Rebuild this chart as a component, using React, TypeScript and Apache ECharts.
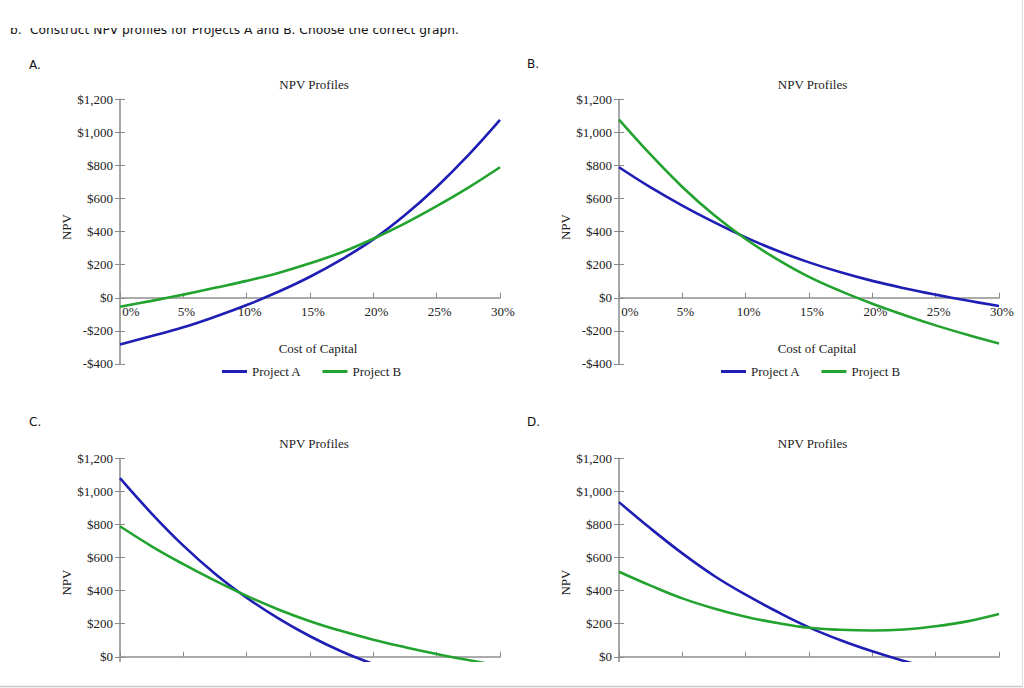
import React, { useEffect, useRef } from 'react';
import * as echarts from 'echarts';

// ---------- data ----------
const RATES = [0, 2.5, 5, 7.5, 10, 12.5, 15, 17.5, 20, 22.5, 25, 27.5, 30];

const A_PROJECT_A = [-282, -232, -179, -115, -44, 36, 127, 232, 353, 500, 670, 862, 1075];
const A_PROJECT_B = [-54, -19, 19, 60, 102, 150, 208, 275, 357, 450, 554, 666, 789];
const B_PROJECT_A = [789, 667, 557, 457, 365, 284, 214, 154, 102, 58, 19, -17, -50];
const B_PROJECT_B = [1077, 865, 670, 500, 355, 232, 126, 40, -36, -104, -167, -224, -277];
const C_PROJECT_A = [1080, 866, 672, 502, 357, 232, 124, 32, -44, -110, -170, -226, -277];
const C_PROJECT_B = [789, 668, 560, 460, 368, 286, 215, 155, 103, 58, 17, -20, -54];
const D_PROJECT_A = [935, 775, 625, 490, 375, 272, 178, 100, 33, -26, -78, -124, -165];
const D_PROJECT_B = [514, 430, 353, 292, 242, 204, 175, 163, 159, 165, 184, 214, 258];

const SERIES_NAMES = ['Project A', 'Project B'];
const PANEL_LABELS = ['A.', 'B.', 'C.', 'D.'];
const TITLE = 'NPV Profiles';
const X_NAME = 'Cost of Capital';
const Y_NAME = 'NPV';
const HEADER_MARK = 'b.';
const HEADER_TEXT = 'Construct NPV profiles for Projects A and B. Choose the correct graph.';
const Y_MIN = -400;
const Y_MAX = 1200;
const Y_STEP = 200;
const X_MIN = 0;
const X_MAX = 30;
const X_STEP = 5;

// ---------- styles ----------
const SERIF = "'Liberation Serif', 'Times New Roman', serif";
const SANS = "'DejaVu Sans', Verdana, sans-serif";
const BLUE = '#1e1eb4';
const GREEN = '#22a22e';
const TEXT = '#222';
const CHART_H = 760; // taller than the window: the lower panels run past the visible page

const PANELS = [
  { label: PANEL_LABELS[0], a: A_PROJECT_A, b: A_PROJECT_B, left: 120, top: 99.3, lx: 29, ly: 65, tx: 314, ty: 84, bottom: true, legendLeft: 222, nameShift: 9 },
  { label: PANEL_LABELS[1], a: B_PROJECT_A, b: B_PROJECT_B, left: 619, top: 99.3, lx: 527, ly: 64, tx: 812.5, ty: 84, bottom: true, legendLeft: 721, nameShift: 9 },
  { label: PANEL_LABELS[2], a: C_PROJECT_A, b: C_PROJECT_B, left: 120, top: 458.3, lx: 29, ly: 422, tx: 314, ty: 443.5, bottom: false, legendLeft: 222, nameShift: 16 },
  { label: PANEL_LABELS[3], a: D_PROJECT_A, b: D_PROJECT_B, left: 619, top: 458.3, lx: 527, ly: 422, tx: 812.5, ty: 443.5, bottom: false, legendLeft: 721, nameShift: 16 },
];
const GRID_W = 380;
const GRID_H = 264.6;
// distance from the grid's bottom edge up to the $0 line
const ZERO_OFFSET = ((0 - Y_MIN) / (Y_MAX - Y_MIN)) * GRID_H;

const money = (v: number) => (v < 0 ? '-' : '') + '$' + Math.abs(v).toLocaleString('en-US');

function buildOption() {
  const grid: any[] = [];
  const xAxis: any[] = [];
  const yAxis: any[] = [];
  const series: any[] = [];
  const legend: any[] = [];
  const elements: any[] = [];

  PANELS.forEach((p, i) => {
    grid.push({ left: p.left, top: p.top, width: GRID_W, height: GRID_H, containLabel: false });
    xAxis.push({
      type: 'value',
      gridIndex: i,
      position: 'bottom',
      offset: -ZERO_OFFSET,
      min: X_MIN,
      max: X_MAX,
      interval: X_STEP,
      axisLine: { show: true, onZero: false, lineStyle: { color: '#ababab', width: 2 } },
      axisTick: { show: true, inside: true, length: 5, lineStyle: { color: '#8a8a8a', width: 1 } },
      axisLabel: {
        show: p.bottom,
        margin: 7,
        color: TEXT,
        fontFamily: SERIF,
        fontSize: 13,
        formatter: (v: number) => (v === 0 ? '{z|' + v + '%}' : '{n|' + v + '%}'),
        rich: {
          z: { padding: [0, 0, 0, 22], fontFamily: SERIF, fontSize: 13, color: TEXT },
          n: { padding: [0, 0, 0, 6], fontFamily: SERIF, fontSize: 13, color: TEXT },
        },
      },
      splitLine: { show: false },
      name: p.bottom ? X_NAME : '',
      nameLocation: 'middle',
      nameGap: 44,
      nameTextStyle: { fontFamily: SERIF, fontSize: 13, color: TEXT, padding: [0, 0, 0, 16] },
    });
    yAxis.push({
      type: 'value',
      gridIndex: i,
      position: 'left',
      min: Y_MIN,
      max: Y_MAX,
      interval: Y_STEP,
      axisLine: { show: true, onZero: false, lineStyle: { color: '#8a8a8a', width: 1.5 } },
      axisTick: { show: true, length: 5, lineStyle: { color: '#8a8a8a', width: 1 } },
      axisLabel: {
        margin: 7,
        color: TEXT,
        fontFamily: SERIF,
        fontSize: 13,
        formatter: (v: number) => (!p.bottom && v < 0 ? '' : money(v)),
      },
      splitLine: { show: false },
      name: Y_NAME,
      nameLocation: 'middle',
      nameGap: 43,
      nameRotate: 90,
      nameTextStyle: { fontFamily: SERIF, fontSize: 13, color: TEXT, padding: [0, 0, 0, p.nameShift] },
    });
    yAxis.push({
      type: 'value',
      gridIndex: i,
      position: 'left',
      offset: 0,
      min: Y_MIN,
      max: Y_MAX,
      interval: Y_STEP,
      axisLine: { show: false, onZero: false },
      axisTick: { show: true, inside: true, length: 5, lineStyle: { color: '#8a8a8a', width: 1 } },
      axisLabel: { show: false },
      splitLine: { show: false },
    });
    [p.a, p.b].forEach((vals, k) => {
      const col = k === 0 ? BLUE : GREEN;
      series.push({
        type: 'line',
        name: SERIES_NAMES[k],
        xAxisIndex: i,
        yAxisIndex: 2 * i,
        data: RATES.map((r, j) => [r, vals[j]]),
        smooth: 0.4,
        symbol: 'none',
        color: col,
        lineStyle: { color: col, width: 2.6 },
        itemStyle: { color: col },
      });
    });
    if (p.bottom) {
      legend.push({
        left: p.legendLeft,
        top: 365,
        padding: 0,
        icon: 'rect',
        itemWidth: 25,
        itemHeight: 3,
        itemGap: 21,
        selectedMode: false,
        textStyle: { fontFamily: SERIF, fontSize: 13, color: TEXT },
        data: SERIES_NAMES,
      });
    }
    elements.push({
      type: 'text',
      x: p.lx,
      y: p.ly,
      style: { text: p.label, font: '12px ' + SANS, fill: '#111', align: 'left', verticalAlign: 'middle', textAlign: 'left', textVerticalAlign: 'middle' },
    });
    elements.push({
      type: 'text',
      x: p.tx,
      y: p.ty,
      style: { text: TITLE, font: '13px ' + SERIF, fill: TEXT, align: 'center', verticalAlign: 'middle', textAlign: 'center', textVerticalAlign: 'middle' },
    });
  });

  // header (top partly cut off, as in the reference)
  elements.push({
    type: 'text', x: 10, y: 29.8, z: 1,
    style: { text: HEADER_MARK, font: '12.25px ' + SANS, fill: '#111', align: 'left', verticalAlign: 'middle', textAlign: 'left', textVerticalAlign: 'middle' },
  });
  elements.push({
    type: 'text', x: 30, y: 29.8, z: 1,
    style: { text: HEADER_TEXT, font: '12.25px ' + SANS, fill: '#111', align: 'left', verticalAlign: 'middle', textAlign: 'left', textVerticalAlign: 'middle' },
  });
  elements.push({ type: 'rect', z: 50, shape: { x: 0, y: 0, width: 1024, height: 28 }, style: { fill: '#fff' } });
  // bottom clip of the lower panels
  elements.push({ type: 'rect', z: 50, shape: { x: 0, y: 662, width: 1024, height: CHART_H - 662 }, style: { fill: '#fff' } });
  elements.push({ type: 'line', z: 51, shape: { x1: 0, y1: 686.5, x2: 1022, y2: 686.5 }, style: { stroke: '#c8c8c8', lineWidth: 1.5 } });
  elements.push({ type: 'line', z: 51, shape: { x1: 1022.5, y1: 0, x2: 1022.5, y2: 687 }, style: { stroke: '#dcdcdc', lineWidth: 1 } });

  return {
    animation: false,
    backgroundColor: '#fff',
    grid,
    xAxis,
    yAxis,
    series,
    legend,
    graphic: { elements },
  };
}

export default function App() {
  const ref = useRef<HTMLDivElement>(null);
  useEffect(() => {
    if (!ref.current) return;
    const chart = echarts.init(ref.current, undefined, { renderer: 'svg' });
    chart.setOption(buildOption() as any);
    return () => chart.dispose();
  }, []);
  return (
    <div style={{ position: 'fixed', left: 0, top: 0, width: 1024, height: 688, background: '#fff', overflow: 'hidden' }}>
      <div ref={ref} style={{ width: 1024, height: CHART_H }} />
    </div>
  );
}
